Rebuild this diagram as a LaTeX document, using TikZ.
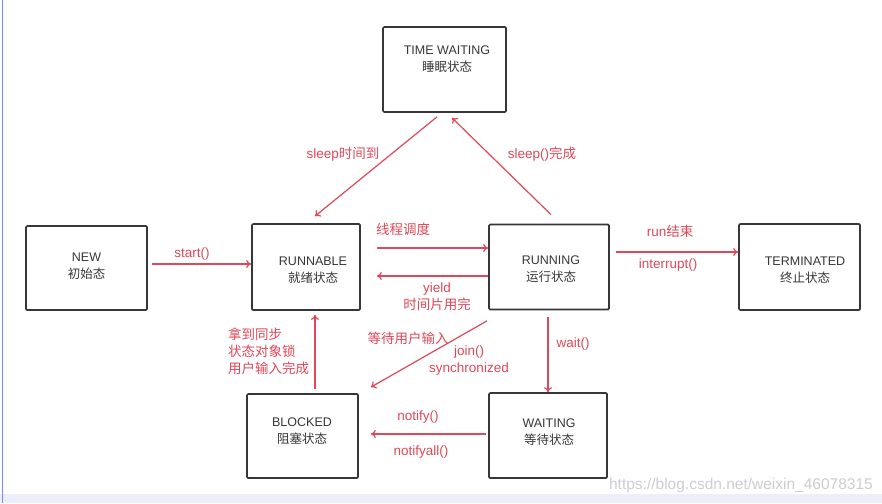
\documentclass[tikz,border=0pt]{standalone}
\usepackage{fontspec}
\setmainfont{Liberation Sans}
\newfontfamily\cjk{Noto Sans CJK SC}
\usetikzlibrary{arrows.meta,calc}
\definecolor{ared}{RGB}{222,72,88}
\definecolor{boxc}{RGB}{55,55,55}
\definecolor{txtc}{RGB}{55,55,55}
\definecolor{wmark}{RGB}{205,205,210}
\definecolor{edgeblue}{RGB}{120,140,255}
\definecolor{band}{RGB}{236,238,250}
\begin{document}
\begin{tikzpicture}[x=1pt,y=-1pt,
  statebox/.style={draw=boxc, line width=1.7pt, rounded corners=1.2pt, inner sep=0pt},
  boxtext/.style={text=txtc, font=\fontsize{12.5}{17}\selectfont, align=center, inner sep=0pt},
  lbl/.style={text=ared, font=\fontsize{13.5}{17}\selectfont, inner sep=0pt},
  conn/.style={draw=ared, line width=1.2pt, -{To[length=5pt,width=8pt]}}
]
\useasboundingbox[fill=white] (0,0) rectangle (882,503);
\fill[band] (0,494) rectangle (882,503);
\draw[edgeblue, line width=1pt] (2,0) -- (2,503);

% boxes
\node[statebox, minimum width=123pt, minimum height=85pt] (tw) at (444.5,69.5) {};
\node[statebox, minimum width=121pt, minimum height=84pt] (new) at (86.5,268) {};
\node[statebox, minimum width=108pt, minimum height=86pt] (runnable) at (306,267) {};
\node[statebox, minimum width=120pt, minimum height=85pt] (running) at (549,267) {};
\node[statebox, minimum width=121pt, minimum height=86pt] (term) at (799.5,267) {};
\node[statebox, minimum width=111pt, minimum height=84pt] (blocked) at (302.5,436) {};
\node[statebox, minimum width=118pt, minimum height=85pt] (waiting) at (548,435.5) {};

% box texts
\node[boxtext] (twt) at (447,59.5) {TIME WAITING\\{\cjk 睡眠状态}};
\node[boxtext] (newt) at (86.5,266) {NEW\\{\cjk 初始态}};
\node[boxtext] (runnablet) at (313,270.5) {RUNNABLE\\{\cjk 就绪状态}};
\node[boxtext] (runningt) at (551,269) {RUNNING\\{\cjk 运行状态}};
\node[boxtext] (termt) at (805,270) {TERMINATED\\{\cjk 终止状态}};
\node[boxtext] (blockedt) at (302,431) {BLOCKED\\{\cjk 阻塞状态}};
\node[boxtext] (waitingt) at (549,432) {WAITING\\{\cjk 等待状态}};

% connectors
\draw[conn] ($(new.east)+(4,-4)$) -- ($(runnable.west)+(0,-3)$);
\draw[conn] ($(runnable.east)+(16,-19)$) -- ($(running.west)+(0,-19)$);
\draw[conn] ($(running.west)+(0,9)$) -- ($(runnable.east)+(16,9)$);
\draw[conn] ($(tw.south)+(-7.5,4)$) -- ($(runnable.north)+(9,-7)$);
\draw[conn] ($(running.north)+(2,-9)$) -- ($(tw.south)+(7.5,5)$);
\draw[conn] ($(running.east)+(6,-15)$) -- ($(term.west)+(0,-15)$);
\draw[conn] ($(running.south)+(-1,6.5)$) -- (waiting.north);
\draw[conn] ($(running.south)+(-62,10.5)$) -- ($(blocked.north east)+(12,-6)$);
\draw[conn] ($(blocked.north)+(12.5,-4)$) -- ($(runnable.south)+(9,4)$);
\draw[conn] ($(waiting.west)+(-2,-1.5)$) -- ($(blocked.east)+(12,-2)$);

% labels
\node[lbl] (lstart) at (192,254) {start()};
\node[lbl] (lsched) at (403,229) {\cjk 线程调度};
\node[lbl, align=center] (lyield) at (437,297) {yield\\{\cjk 时间片用完}};
\node[lbl] (lsleep1) at (343,154) {sleep{\cjk 时间到}};
\node[lbl] (lsleep2) at (542,154) {sleep(){\cjk 完成}};
\node[lbl] (lrun) at (670,231) {run{\cjk 结束}};
\node[lbl] (lint) at (668,265) {interrupt()};
\node[lbl] (lwait) at (573,344) {wait()};
\node[lbl] (linput) at (408,338) {\cjk 等待用户输入};
\node[lbl, align=center] (ljoin) at (469,361) {join()\\synchronized};
\node[lbl, align=left, anchor=west] (lgot) at (228,351) {{\cjk 拿到同步}\\{\cjk 状态对象锁}\\{\cjk 用户输入完成}};
\node[lbl] (lnotify) at (418,417) {notify()};
\node[lbl] (lnotifyall) at (421,452) {notifyall()};

\node[text=wmark, font=\fontsize{15.5}{17}\selectfont, anchor=east, inner sep=0pt] (wm) at (873,485) {https://blog.csdn.net/weixin\_46078315};
\end{tikzpicture}
\end{document}
